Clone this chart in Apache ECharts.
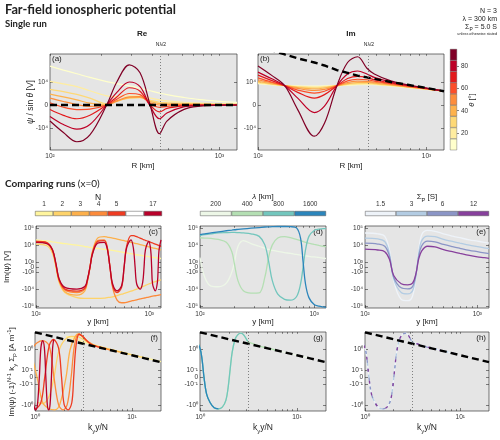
<!DOCTYPE html>
<html>
<head>
<meta charset="utf-8">
<script src="https://cdn.jsdelivr.net/npm/echarts@6/dist/echarts.min.js"></script>
<style>
  html, body { margin: 0; padding: 0; background: #fff; }
  #chart { width: 500px; height: 440px; }
</style>
</head>
<body>
<div id="chart"></div>
<script>
// y values are stored in plot units of the symlog axes:
//  top row:    0 = 0 V, +/-1 = +/-1e4 V
//  middle row: +/-0.3 = +/-1e3, +/-1.3 = +/-1e4, +/-2.3 = +/-1e5 V
//  bottom row: +/-0.33 = +/-1e-1, +/-1.33 = +/-1e0 A/m

// ---- single run (a), (b)
const rKm = [100, 120, 144, 172, 216, 248, 294, 340, 390, 443, 490, 614, 771, 1000, 1270];
const thetaDeg = [10, 20, 30, 40, 50, 60, 70, 80, 90];
const thetaColors = ['#ffffcc', '#ffeda0', '#fed976', '#feb24c', '#fd8d3c', '#fc4e2a', '#e31a1c', '#bd0026', '#800026'];
const reByTheta = [
  [1.69, 1.52, 1.36, 1.2, 1.02, 0.93, 0.83, 0.73, 0.62, 0.52, 0.45, 0.33, 0.23, 0.16, 0.11],
  [1.03, 0.92, 0.8, 0.62, 0.4, 0.36, 0.4, 0.4, 0.3, 0.22, 0.18, 0.12, 0.08, 0.06, 0.05],
  [0.68, 0.58, 0.46, 0.3, 0.05, 0.18, 0.3, 0.32, 0.2, 0.12, 0.1, 0.07, 0.05, 0.03, 0.03],
  [0.47, 0.35, 0.22, 0.08, 0, 0.15, 0.32, 0.33, 0.15, 0.06, 0.05, 0.04, 0.03, 0.02, 0.02],
  [0.3, 0.15, 0.02, -0.06, 0, 0.18, 0.35, 0.36, 0.1, 0, 0.01, 0.02, 0.02, 0.01, 0.01],
  [0.1, -0.1, -0.2, -0.18, 0, 0.25, 0.5, 0.45, 0.05, -0.1, -0.06, -0.01, 0, 0, 0],
  [-0.2, -0.45, -0.6, -0.45, 0, 0.35, 0.75, 0.6, 0, -0.3, -0.15, -0.04, -0.01, 0, 0],
  [-0.5, -0.85, -1.05, -0.85, 0, 0.55, 1.0, 0.8, -0.05, -0.6, -0.35, -0.08, -0.02, -0.01, 0],
  [-0.7, -1.2, -1.6, -1.3, 0, 1.0, 1.75, 1.4, 0, -1.25, -0.7, -0.2, -0.05, -0.01, 0]
];
const imByTheta = [
  [0.93, 0.88, 0.84, 0.83, 0.82, 0.83, 0.84, 0.86, 0.88, 0.89, 0.88, 0.83, 0.76, 0.68, 0.6],
  [0.95, 0.89, 0.84, 0.81, 0.79, 0.81, 0.84, 0.88, 0.9, 0.91, 0.9, 0.84, 0.77, 0.69, 0.6],
  [0.98, 0.91, 0.84, 0.79, 0.75, 0.78, 0.84, 0.9, 0.94, 0.94, 0.92, 0.85, 0.78, 0.69, 0.6],
  [1.03, 0.93, 0.84, 0.76, 0.7, 0.74, 0.84, 0.93, 0.98, 0.98, 0.95, 0.87, 0.79, 0.7, 0.6],
  [1.1, 0.97, 0.84, 0.72, 0.63, 0.68, 0.84, 0.98, 1.04, 1.03, 0.99, 0.9, 0.8, 0.7, 0.6],
  [1.18, 1.0, 0.84, 0.65, 0.52, 0.6, 0.84, 1.05, 1.12, 1.1, 1.04, 0.93, 0.82, 0.71, 0.6],
  [1.3, 1.07, 0.84, 0.55, 0.3, 0.45, 0.84, 1.15, 1.25, 1.2, 1.1, 0.96, 0.84, 0.72, 0.6],
  [1.43, 1.15, 0.84, 0.3, -0.33, -0.05, 0.84, 1.35, 1.48, 1.35, 1.2, 1.0, 0.86, 0.73, 0.6],
  [1.7, 1.3, 0.84, -0.2, -1.36, -0.8, 0.84, 1.85, 2.1, 1.6, 1.35, 1.05, 0.88, 0.74, 0.6]
];
const reFarField = [0, 0, 0, 0, 0, 0, 0, 0, 0, 0, 0, 0, 0, 0, 0];
const imFarField = [2.55, 2.38, 2.2, 2.03, 1.85, 1.72, 1.52, 1.4, 1.28, 1.2, 1.14, 1.0, 0.88, 0.74, 0.6];
const rHalfWidth = 450; // N*lambda/2

// ---- (c) varying N
const nValues = ['1', '2', '3', '4', '5', '17'];
const nColors = ['#fff59e', '#fed36a', '#fdb04b', '#fc8a3a', '#ee3b22', '#b8002a'];
const cY = [100, 125, 140, 150, 160, 180, 230, 270, 285, 300, 315, 350, 400, 425, 450, 475, 520, 570, 600, 630,
  690, 725, 750, 775, 830, 875, 900, 925, 990, 1030, 1050, 1070, 1130, 1180, 1200, 1220, 1270];
const imByN = [
  [1.6, 1.53, 1.48, 1.45, 1.42, 1.37, 1.28, 1.2, 1.18, 1.15, 1.13, 1.09, 1.04, 1.02, 1.0, 0.98, 0.93, 0.88, 0.85, 0.83,
    0.78, 0.76, 0.74, 0.72, 0.69, 0.67, 0.65, 0.64, 0.61, 0.59, 0.58, 0.57, 0.55, 0.53, 0.52, 0.51, 0.5],
  [1.35, 1.25, 0.8, 0, -0.9, -1.5, -1.8, -1.85, -1.85, -1.85, -1.85, -1.85, -1.83, -1.8, -1.78, -1.75, -1.68, -1.6, -1.55, -1.5,
    -1.42, -1.37, -1.33, -1.3, -1.22, -1.15, -1.12, -1.08, -1.0, -0.96, -0.93, -0.91, -0.86, -0.82, -0.8, -0.79, -0.76],
  [1.45, 1.38, 0.9, 0.1, -0.8, -1.45, -1.65, -1.4, -0.8, 0, 0.9, 1.7, 1.78, 1.76, 1.73, 1.7, 1.64, 1.58, 1.55, 1.52,
    1.45, 1.42, 1.39, 1.37, 1.32, 1.28, 1.26, 1.24, 1.19, 1.16, 1.14, 1.13, 1.09, 1.06, 1.05, 1.04, 1.0],
  [1.5, 1.42, 0.95, 0.1, -0.8, -1.35, -1.5, -1.3, -0.8, 0, 0.85, 1.55, 1.6, 1.2, 0, -1.2, -1.95, -2.1, -2.1, -2.08,
    -2.0, -1.97, -1.95, -1.93, -1.88, -1.85, -1.83, -1.81, -1.77, -1.74, -1.72, -1.71, -1.69, -1.67, -1.66, -1.65, -1.63],
  [1.5, 1.44, 1.0, 0.15, -0.75, -1.3, -1.42, -1.25, -0.75, 0, 0.8, 1.5, 1.55, 1.15, 0, -1.1, -1.5, -1.2, 0, 1.2,
    1.85, 1.85, 1.82, 1.78, 1.7, 1.63, 1.6, 1.57, 1.5, 1.45, 1.43, 1.41, 1.35, 1.3, 1.28, 1.26, 1.2],
  [1.45, 1.38, 1.0, 0.2, -0.7, -1.2, -1.3, -1.15, -0.7, 0, 0.75, 1.4, 1.45, 1.1, 0, -1.0, -1.4, -1.1, 0, 1.1,
    1.6, 1.1, 0, -1.0, -1.3, -0.9, 0, 1.0, 1.5, 1.0, 0, -1.0, -1.4, -0.9, 0, 1.0, 1.6]
];

// ---- (d) varying lambda
const lambdaValues = ['200', '400', '800', '1600'];
const lambdaColors = ['#edf7e7', '#b4dfb3', '#72c6bd', '#2b85bb'];
const dY = [100, 110, 125, 145, 170, 190, 200, 215, 240, 280, 330, 370, 400, 430, 480, 550, 620, 700, 760, 800,
  840, 900, 1000, 1100, 1200, 1270];
const imByLambda = [
  [0.55, -0.6, -1.12, -1.16, -0.95, -0.3, 0.25, 1.2, 1.55, 1.38, 1.22, 1.1, 1.03, 0.98, 0.92, 0.85, 0.8, 0.74, 0.7, 0.68,
    0.66, 0.63, 0.59, 0.56, 0.52, 0.5],
  [1.72, 1.7, 1.68, 1.62, 1.45, 0.9, 0.2, -0.8, -1.4, -1.53, -1.52, -0.6, 0.6, 1.3, 1.7, 1.78, 1.72, 1.62, 1.55, 1.5,
    1.45, 1.4, 1.33, 1.27, 1.22, 1.2],
  [1.85, 1.9, 1.95, 2.0, 2.02, 2.03, 2.03, 2.02, 2.0, 1.95, 1.8, 1.3, 0.3, -0.8, -1.6, -1.9, -1.95, -1.75, -1.0, 0,
    1.0, 1.8, 2.15, 2.22, 2.25, 2.25],
  [1.9, 1.95, 2.0, 2.07, 2.13, 2.17, 2.19, 2.21, 2.24, 2.28, 2.32, 2.35, 2.36, 2.37, 2.38, 2.38, 2.37, 2.3, 1.7, 0.3,
    -1.0, -1.8, -2.2, -2.3, -2.35, -2.37]
];

// ---- (e) varying Sigma_P
const sigmaValues = ['1.5', '3', '6', '12'];
const sigmaColors = ['#eef3f9', '#b3cce3', '#8b95c6', '#87409c'];
const eY = [100, 130, 150, 165, 180, 210, 240, 265, 285, 300, 320, 360, 420, 500, 600, 700, 850, 1000, 1150, 1270];
const imBySigma = [
  [2.0, 1.95, 1.8, 1.0, -0.8, -1.9, -1.98, -1.7, -0.5, 0.9, 1.9, 2.15, 2.1, 1.95, 1.82, 1.72, 1.6, 1.52, 1.45, 1.4],
  [1.7, 1.65, 1.5, 0.8, -0.7, -1.5, -1.58, -1.4, -0.45, 0.75, 1.55, 1.82, 1.78, 1.62, 1.5, 1.4, 1.28, 1.2, 1.13, 1.08],
  [1.4, 1.35, 1.22, 0.65, -0.6, -1.22, -1.28, -1.15, -0.4, 0.6, 1.25, 1.52, 1.48, 1.33, 1.2, 1.1, 0.98, 0.9, 0.83, 0.78],
  [1.05, 1.0, 0.9, 0.45, -0.5, -0.98, -1.05, -0.95, -0.35, 0.45, 0.95, 1.22, 1.18, 1.02, 0.9, 0.8, 0.68, 0.6, 0.55, 0.51]
];

// ---- (f) normalised, varying N
const fK = [
  [2.09, 2.5, 3, 4, 5, 7, 10, 14, 20],
  [1.05, 1.2, 1.4, 1.57, 1.75, 2.0, 2.4, 2.8, 3.2, 4, 5, 7, 10, 13.3],
  [0.7, 0.85, 1.05, 1.2, 1.4, 1.6, 1.8, 2.09, 2.3, 2.6, 2.85, 3.2, 4, 5, 7, 8.87],
  [0.52, 0.65, 0.785, 0.95, 1.2, 1.4, 1.57, 1.75, 1.95, 2.15, 2.36, 2.55, 2.8, 3.1, 3.5, 4, 5, 6.65],
  [0.42, 0.5, 0.63, 0.8, 1.0, 1.15, 1.26, 1.4, 1.55, 1.75, 1.88, 2.0, 2.2, 2.4, 2.51, 2.65, 2.85, 3.1, 3.5, 4, 5.32],
  [0.85, 0.924, 0.97, 1.017, 1.06, 1.109, 1.15, 1.2, 1.25, 1.294, 1.34, 1.386, 1.43, 1.478, 1.52, 1.56]
];
const fV = [
  [1.95, 1.85, 1.72, 1.55, 1.43, 1.26, 1.08, 0.92, 0.75],
  [-1.2, -1.25, -0.9, 0, 1.2, 1.75, 1.95, 1.92, 1.78, 1.55, 1.42, 1.25, 1.07, 0.94],
  [1.5, 1.4, 0, -1.2, -1.5, -1.55, -1.3, 0, 1.3, 1.95, 2.08, 1.85, 1.55, 1.4, 1.24, 1.12],
  [-1.3, -1.2, 0, 1.4, 1.75, 1.5, 0, -1.3, -1.55, -1.3, 0, 1.5, 2.05, 1.95, 1.7, 1.52, 1.39, 1.26],
  [1.3, 1.2, 0, -1.2, -1.5, -1.2, 0, 1.5, 1.8, 1.4, 0, -1.3, -1.55, -1.2, 0, 1.5, 2.05, 1.95, 1.7, 1.52, 1.37],
  [1.4, 0, -1.3, -1.55, -1.3, 0, 1.4, 1.75, 1.4, 0, -1.3, -1.55, -1.3, 0, 1.4, 1.8]
];

// ---- (g), (h) the N = 3 curve, each run covering its own k range
const uniK = [0.7, 0.8, 0.9, 1.0, 1.05, 1.1, 1.17, 1.27, 1.4, 1.55, 1.7, 1.85, 1.95, 2.05, 2.15, 2.3, 2.45, 2.65,
  2.85, 3.1, 3.5, 4.2, 5, 6.65, 8.87, 10, 13.3];
const uniV = [2.0, 1.95, 1.8, 1.38, 0.85, 0, -0.8, -1.2, -1.45, -1.5, -1.42, -1.1, -0.5, 0.4, 1.2, 1.8, 2.02, 2.1,
  2.0, 1.72, 1.6, 1.47, 1.39, 1.25, 1.11, 1.06, 0.93];
const lambdaKRange = [[1.05, 13.3], [0.52, 6.65], [0.26, 3.33], [0.13, 1.66]];
const sigmaKRange = [0.7, 8.87];
const kFar = [1, 1.5, 2, 3, 5, 7, 10, 14, 20];
const vFar = [2.14, 1.95, 1.81, 1.62, 1.38, 1.22, 1.05, 0.89, 0.72];
const kMarker = 3.14;

// ---- tick labels
const rMajor = [100, 1000];
const rMinor = [200, 300, 400, 500, 600, 700, 800, 900];
const kMajor = [1, 10];
const kMinor = [2, 3, 4, 5, 6, 7, 8, 9];
const topTickPos = [-1, 0, 1];
const topTickText = ['-10⁴', '0', '10⁴'];
const midTickPos = [-2.3, -1.3, -0.3, 0, 0.3, 1.3, 2.3];
const midTickText = ['-10⁵', '-10⁴', '-10³', '0', '10³', '10⁴', '10⁵'];
const botTickPos = [-1.33, -0.33, 0, 0.33, 1.33];
const botTickText = ['-10⁰', '-10⁻¹', '0', '10⁻¹', '10⁰'];

const FONT = "'Liberation Sans', Arial, sans-serif";
const SUP = { '0': '⁰', '1': '¹', '2': '²', '3': '³', '4': '⁴', '5': '⁵', '6': '⁶', '7': '⁷', '8': '⁸', '9': '⁹', '-': '⁻' };
const pow10 = v => '10' + String(Math.round(Math.log10(v))).split('').map(c => SUP[c]).join('');

const grids = [], xAxes = [], yAxes = [], series = [];
const tickStyle = { color: '#333', width: 0.6 };
const noLine = { show: false, onZero: false };

function addPanel(box, xr, xMajor, xMinor, yr, yPos, yText) {
  const gi = grids.length;
  grids.push({ left: box[0], top: box[1], width: box[2], height: box[3], show: true,
    backgroundColor: '#e5e5e5', borderColor: '#3a3a3a', borderWidth: 0.7 });
  const xi = xAxes.length;
  const base = { type: 'log', gridIndex: gi, min: xr[0], max: xr[1], axisLine: noLine, splitLine: { show: false } };
  xAxes.push(Object.assign({}, base, { position: 'bottom',
    axisTick: { inside: true, length: 3, customValues: xMajor, lineStyle: tickStyle },
    axisLabel: { customValues: xMajor, formatter: pow10, fontSize: 6.5, color: '#333', margin: 3, fontFamily: FONT } }));
  xAxes.push(Object.assign({}, base, { position: 'bottom', axisLabel: { show: false },
    axisTick: { inside: true, length: 1.8, customValues: xMinor, lineStyle: tickStyle } }));
  xAxes.push(Object.assign({}, base, { position: 'top', axisLabel: { show: false },
    axisTick: { inside: true, length: 1.8, customValues: xMajor.concat(xMinor), lineStyle: tickStyle } }));
  const yi = yAxes.length;
  const ybase = { type: 'value', gridIndex: gi, min: yr[0], max: yr[1], axisLine: noLine, splitLine: { show: false } };
  yAxes.push(Object.assign({}, ybase, { position: 'left',
    axisTick: { inside: true, length: 3, customValues: yPos, lineStyle: tickStyle },
    axisLabel: { customValues: yPos, fontSize: 6.5, color: '#333', margin: 2, fontFamily: FONT,
      formatter: v => yText[yPos.findIndex(p => Math.abs(p - v) < 1e-6)] } }));
  yAxes.push(Object.assign({}, ybase, { position: 'right', axisLabel: { show: false },
    axisTick: { inside: true, length: 3, customValues: yPos, lineStyle: tickStyle } }));
  return { x: xi, y: yi };
}

function line(ax, xs, ys, color, width, extra) {
  series.push(Object.assign({
    type: 'line', xAxisIndex: ax.x, yAxisIndex: ax.y,
    data: xs.map((x, i) => [x, ys[i]]), showSymbol: false, symbol: 'none', smooth: 0.35,
    lineStyle: { color: color, width: width || 1.2 }, silent: true
  }, extra || {}));
}

function farLine(ax, xs, ys, marker) {
  line(ax, xs, ys, '#000', 2.4, {
    smooth: false,
    lineStyle: { color: '#000', width: 2.4, type: [7, 4] },
    markLine: marker ? { silent: true, symbol: ['none', 'none'], label: { show: false },
      lineStyle: { type: [1, 2], color: '#666', width: 0.8 }, data: [{ xAxis: marker }] } : undefined
  });
}

function colorbarH(box, colors, labels) {
  const gi = grids.length;
  grids.push({ left: box[0], top: box[1], width: box[2], height: box[3] });
  const xi = xAxes.length;
  const pos = [], txt = [];
  labels.forEach((l, i) => { if (l !== '') { pos.push(i + 0.5); txt.push(l); } });
  xAxes.push({ type: 'value', gridIndex: gi, min: 0, max: colors.length, position: 'top',
    axisLine: noLine, splitLine: { show: false }, axisTick: { show: false },
    axisLabel: { customValues: pos, fontSize: 6.5, color: '#333', margin: 3, fontFamily: FONT,
      formatter: v => txt[pos.findIndex(p => Math.abs(p - v) < 1e-6)] } });
  const yi = yAxes.length;
  yAxes.push({ type: 'category', gridIndex: gi, data: ['cb'], show: false });
  colors.forEach(c => series.push({ type: 'bar', xAxisIndex: xi, yAxisIndex: yi, stack: 'cb' + gi, data: [1],
    barWidth: '100%', silent: true, itemStyle: { color: c, borderColor: '#555', borderWidth: 0.5 } }));
}

// ---------- panels
const pa = addPanel([50, 54, 187, 96], [100, 1270], rMajor, rMinor, [-1.96, 2.22], topTickPos, topTickText);
const pb = addPanel([258, 54, 186, 96], [100, 1270], rMajor, rMinor, [-1.96, 2.22], topTickPos, topTickText);
thetaDeg.forEach((t, i) => line(pa, rKm, reByTheta[i], thetaColors[i], 1.2));
farLine(pa, rKm, reFarField, rHalfWidth);
thetaDeg.forEach((t, i) => line(pb, rKm, imByTheta[i], thetaColors[i], 1.2));
farLine(pb, rKm, imFarField, rHalfWidth);

const pc = addPanel([36, 226, 125, 82], [100, 1270], rMajor, rMinor, [-2.41, 2.41], midTickPos, midTickText);
const pd = addPanel([200, 226, 126, 82], [100, 1270], rMajor, rMinor, [-2.41, 2.41], midTickPos, midTickText);
const pe = addPanel([365, 226, 124, 82], [100, 1270], rMajor, rMinor, [-2.41, 2.41], midTickPos, midTickText);
nValues.forEach((n, i) => line(pc, cY, imByN[i], nColors[i], 1.3));
lambdaValues.forEach((l, i) => line(pd, dY, imByLambda[i], lambdaColors[i], 1.3));
sigmaValues.forEach((s, i) => line(pe, eY, imBySigma[i], sigmaColors[i], 1.3));

const pf = addPanel([35, 332, 126, 79], [1, 20], kMajor, kMinor, [-1.605, 2.157], botTickPos, botTickText);
const pg = addPanel([200, 332, 126, 79], [1, 20], kMajor, kMinor, [-1.605, 2.157], botTickPos, botTickText);
const ph = addPanel([365, 332, 124, 79], [1, 20], kMajor, kMinor, [-1.605, 2.157], botTickPos, botTickText);
nValues.forEach((n, i) => line(pf, fK[i], fV[i], nColors[i], 1.3));
farLine(pf, kFar, vFar, kMarker);
lambdaValues.forEach((l, i) => {
  const idx = uniK.map((k, j) => j).filter(j => uniK[j] >= lambdaKRange[i][0] && uniK[j] <= lambdaKRange[i][1]);
  line(pg, idx.map(j => uniK[j]), idx.map(j => uniV[j]), lambdaColors[i], 1.3);
});
farLine(pg, kFar, vFar, kMarker);
const hIdx = uniK.map((k, j) => j).filter(j => uniK[j] >= sigmaKRange[0] && uniK[j] <= sigmaKRange[1]);
const sigmaDash = [null, [3, 3], [3, 6], [3, 9]];
const sigmaOffset = [0, 0, 3, 6];
sigmaValues.forEach((s, i) => line(ph, hIdx.map(j => uniK[j]), hIdx.map(j => uniV[j]), sigmaColors[i], 1.3, {
  lineStyle: { color: sigmaColors[i], width: 1.3, type: sigmaDash[i] || 'solid', dashOffset: sigmaOffset[i] }
}));
farLine(ph, kFar, vFar, kMarker);

// ---------- colorbars
colorbarH([35, 211, 127, 5], nColors.slice(0, 5).concat(['#ffffff', nColors[5]]), nValues.slice(0, 5).concat(['', '17']));
colorbarH([200, 211, 126, 5], lambdaColors, lambdaValues);
colorbarH([365, 211, 124, 5], sigmaColors, sigmaValues);

(function thetaBar() {
  const gi = grids.length;
  grids.push({ left: 450, top: 49, width: 7, height: 101 });
  const xi = xAxes.length;
  xAxes.push({ type: 'category', gridIndex: gi, data: ['cb'], show: false });
  const yi = yAxes.length;
  yAxes.push({ type: 'value', gridIndex: gi, min: 5, max: 95, position: 'right',
    axisLine: noLine, splitLine: { show: false },
    axisTick: { show: true, inside: false, length: 2, customValues: [20, 40, 60, 80], lineStyle: tickStyle },
    axisLabel: { customValues: [20, 40, 60, 80], fontSize: 6.5, color: '#333', margin: 4, fontFamily: FONT } });
  thetaDeg.forEach((t, i) => series.push({ type: 'bar', xAxisIndex: xi, yAxisIndex: yi, stack: 'theta',
    data: [i === 0 ? 15 : 10], barWidth: '100%', silent: true,
    itemStyle: { color: thetaColors[i], borderColor: '#555', borderWidth: 0.4 } }));
})();

// ---------- texts
const T = (x, y, text, o) => Object.assign({ type: 'text', x: x, y: y, silent: true,
  style: Object.assign({ text: text, fill: '#222', font: '8px ' + FONT, textAlign: 'center', textVerticalAlign: 'middle' }, (o && o.style) || {}) },
  o && o.rotation !== undefined ? { rotation: o.rotation } : {});
const R = (size) => ({
  n: { fontSize: size, fontFamily: FONT, fill: '#222', lineHeight: size + 4 },
  i: { fontSize: size, fontFamily: FONT, fill: '#222', fontStyle: 'italic', lineHeight: size + 4 },
  sup: { fontSize: size * 0.7, fontFamily: FONT, fill: '#222', verticalAlign: 'top', lineHeight: size * 0.8 },
  sub: { fontSize: size * 0.7, fontFamily: FONT, fill: '#222', verticalAlign: 'bottom', lineHeight: size * 0.8 }
});
const UP = Math.PI / 2;
const graphics = [
  T(5, 10, 'Far-field ionospheric potential', { style: { font: 'bold 12.8px Lato, ' + FONT, textAlign: 'left' } }),
  T(5, 24, 'Single run', { style: { font: 'bold 9.5px Lato, ' + FONT, textAlign: 'left' } }),
  T(142, 34, 'Re', { style: { font: 'bold 8px ' + FONT } }),
  T(351, 34, 'Im', { style: { font: 'bold 8px ' + FONT } }),
  T(161, 45, 'Nλ/2', { style: { font: '5px ' + FONT } }),
  T(369, 45, 'Nλ/2', { style: { font: '5px ' + FONT } }),
  T(52, 59, '(a)', { style: { textAlign: 'left' } }),
  T(260, 59, '(b)', { style: { textAlign: 'left' } }),
  T(31, 102, '{i|ψ}{n| / sin }{i|θ}{n| [V]}', { rotation: UP, style: { rich: R(8.5) } }),
  T(143, 166, 'R [km]', { style: { font: '8px ' + FONT } }),
  T(351, 166, 'R [km]', { style: { font: '8px ' + FONT } }),
  T(472, 100, '{i|θ}{n| [°]}', { rotation: UP, style: { rich: R(7.5) } }),
  T(497, 11, 'N = 3', { style: { font: '7px ' + FONT, textAlign: 'right' } }),
  T(497, 19, 'λ = 300 km', { style: { font: '7px ' + FONT, textAlign: 'right' } }),
  T(497, 27, '{n|Σ}{sub|P}{n| = 5.0 S}', { style: { textAlign: 'right', rich: R(7) } }),
  T(497, 34, 'unless otherwise stated', { style: { font: '3.8px ' + FONT, textAlign: 'right' } }),
  T(5, 184, '{b|Comparing runs }{r|(x=0)}', { style: { textAlign: 'left', rich: {
    b: { font: 'bold 10px Lato, ' + FONT, fill: '#222' }, r: { font: '10px Lato, ' + FONT, fill: '#222' } } } }),
  T(98, 198, 'N', { style: { font: '8.5px ' + FONT } }),
  T(263, 197, '{i|λ}{n| [km]}', { style: { rich: R(8) } }),
  T(427, 197, '{n|Σ}{sub|P}{n| [S]}', { style: { rich: R(8) } }),
  T(158, 232, '(c)', { style: { textAlign: 'right' } }),
  T(323, 232, '(d)', { style: { textAlign: 'right' } }),
  T(486, 232, '(e)', { style: { textAlign: 'right' } }),
  T(7, 267, 'Im(ψ) [V]', { rotation: UP, style: { font: '8px ' + FONT } }),
  T(98, 322, 'y [km]', { style: { font: '8px ' + FONT } }),
  T(263, 322, 'y [km]', { style: { font: '8px ' + FONT } }),
  T(427, 322, 'y [km]', { style: { font: '8px ' + FONT } }),
  T(158, 338, '(f)', { style: { textAlign: 'right' } }),
  T(323, 338, '(g)', { style: { textAlign: 'right' } }),
  T(486, 338, '(h)', { style: { textAlign: 'right' } }),
  T(12, 372, '{n|Im(ψ) (-1)}{sup|N-1}{n| k}{sub|y}{n| Σ}{sub|P}{n| [A m}{sup|-1}{n|]}', { rotation: UP, style: { rich: R(8) } }),
  T(98, 428, '{n|k}{sub|y}{n|y/N}', { style: { rich: R(8.5) } }),
  T(263, 428, '{n|k}{sub|y}{n|y/N}', { style: { rich: R(8.5) } }),
  T(427, 428, '{n|k}{sub|y}{n|y/N}', { style: { rich: R(8.5) } })
];

const chart = echarts.init(document.getElementById('chart'), null, { renderer: 'canvas' });
chart.setOption({
  animation: false,
  backgroundColor: '#ffffff',
  textStyle: { fontFamily: FONT },
  grid: grids,
  xAxis: xAxes,
  yAxis: yAxes,
  series: series,
  graphic: graphics
});
</script>
</body>
</html>
